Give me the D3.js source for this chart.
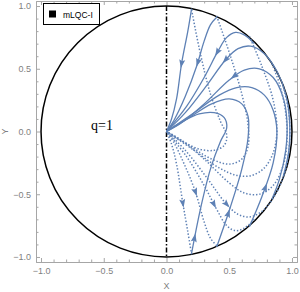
<!DOCTYPE html>
<meta charset="utf-8">
<style>
body { margin: 0; background: #fff; }
</style>
<body>
<script src="https://cdn.jsdelivr.net/npm/d3@7"></script>
<script>

var w = 300,
    h = 292;

// tick labels
var majorTicks = [-1, -0.5, 0, 0.5, 1];
var minorTicks = [-0.9, -0.8, -0.7, -0.6, -0.4, -0.3, -0.2, -0.1, 0.1, 0.2, 0.3, 0.4, 0.6, 0.7, 0.8, 0.9];

// solid orbits, read from the boundary point into the origin
var solidT0 = [[0.2, 0.98], [0.17, 0.8], [0.12, 0.54], [0.08, 0.26], [0.04, 0.1], [0, 0]];
var solidT1 = [[0.4, 0.91], [0.35, 0.85], [0.3, 0.72], [0.24, 0.52], [0.15, 0.28], [0.06, 0.09], [0, 0]];
var solidT2 = [[0.7, 0.7], [0.62, 0.77], [0.55, 0.79], [0.48, 0.75], [0.41, 0.64], [0.3, 0.43], [0.16, 0.2], [0, 0]];
var solidB1 = [[0.2, -0.97], [0.27, -0.62], [0.35, -0.3], [0.43, -0.08], [0.48, 0.03], [0.46, 0.11], [0.38, 0.15], [0.26, 0.14], [0.13, 0.08], [0, 0]];
var solidB2 = [[0.4, -0.92], [0.5, -0.63], [0.6, -0.3], [0.65, -0.05], [0.65, 0.12], [0.6, 0.22], [0.5, 0.26], [0.36, 0.22], [0.18, 0.11], [0, 0]];
var solidB3 = [[0.66, -0.76], [0.76, -0.52], [0.85, -0.25], [0.88, 0], [0.85, 0.17], [0.78, 0.29], [0.68, 0.35], [0.56, 0.35], [0.42, 0.29], [0.22, 0.15], [0, 0]];
var solidB4 = [[0.84, -0.54], [0.9, -0.38], [0.95, -0.15], [0.96, 0.08], [0.93, 0.27], [0.85, 0.43], [0.74, 0.5], [0.62, 0.49], [0.5, 0.41], [0.3, 0.22], [0.12, 0.07], [0, 0]];
var solidB5 = [[0.93, -0.36], [0.975, -0.15], [0.98, 0.1], [0.95, 0.3], [0.88, 0.48], [0.78, 0.62], [0.67, 0.68], [0.57, 0.66], [0.47, 0.57], [0.33, 0.38], [0.15, 0.15], [0, 0]];

// dotted orbits, read from the boundary point back to the origin (flow runs outward)
var dotB0 = [[0.2, -0.98], [0.17, -0.8], [0.13, -0.57], [0.08, -0.26], [0.04, -0.1], [0, 0]];
var dotB1 = [[0.4, -0.91], [0.35, -0.85], [0.3, -0.72], [0.23, -0.48], [0.15, -0.28], [0.06, -0.09], [0, 0]];
var dotB2 = [[0.7, -0.7], [0.62, -0.77], [0.55, -0.79], [0.48, -0.75], [0.4, -0.62], [0.3, -0.43], [0.16, -0.2], [0, 0]];
var dotT1 = [[0.2, 0.97], [0.27, 0.62], [0.35, 0.3], [0.43, 0.08], [0.48, -0.03], [0.46, -0.11], [0.38, -0.15], [0.26, -0.14], [0.13, -0.08], [0, 0]];
var dotT2 = [[0.4, 0.92], [0.5, 0.63], [0.6, 0.3], [0.65, 0.05], [0.65, -0.12], [0.6, -0.22], [0.5, -0.26], [0.36, -0.22], [0.18, -0.11], [0, 0]];
var dotT3 = [[0.66, 0.76], [0.76, 0.52], [0.85, 0.25], [0.88, 0], [0.85, -0.17], [0.78, -0.29], [0.68, -0.35], [0.56, -0.35], [0.42, -0.29], [0.22, -0.15], [0, 0]];
var dotT4 = [[0.84, 0.54], [0.9, 0.38], [0.95, 0.15], [0.96, -0.08], [0.93, -0.27], [0.85, -0.43], [0.74, -0.5], [0.62, -0.49], [0.5, -0.41], [0.3, -0.22], [0.12, -0.07], [0, 0]];
var dotT5 = [[0.93, 0.36], [0.975, 0.15], [0.98, -0.1], [0.95, -0.3], [0.88, -0.48], [0.78, -0.62], [0.67, -0.68], [0.57, -0.66], [0.47, -0.57], [0.33, -0.38], [0.15, -0.15], [0, 0]];

// where the arrowheads sit (null = none)
var solid = [
  {pts: solidT0, arrow: [0.12, 0.54]}, {pts: solidT1, arrow: [0.25, 0.55]}, {pts: solidT2, arrow: [0.41, 0.63]},
  {pts: solidB1, arrow: [0.23, -0.85]}, {pts: solidB2, arrow: [0.52, -0.66]}, {pts: solidB3, arrow: [0.8, -0.45]},
  {pts: solidB4, arrow: [0.54, 0.44]}, {pts: solidB5, arrow: [0.47, 0.57]}
];
var dotted = [
  {pts: dotB0, arrow: [0.13, -0.57]}, {pts: dotB1, arrow: [0.23, -0.48]}, {pts: dotB2, arrow: [0.38, -0.58]},
  {pts: dotT1, arrow: null}, {pts: dotT2, arrow: null}, {pts: dotT3, arrow: null},
  {pts: dotT4, arrow: null}, {pts: dotT5, arrow: [0.48, -0.58]}
];

var blue = "#5e81b5",
    frameColor = "#a6a6a6",
    labelColor = "#7f7f7f";

var x = d3.scaleLinear().domain([-1.04, 1.04]).range([36, 297]),
    y = d3.scaleLinear().domain([-1.04, 1.04]).range([262, 1]);

var svg = d3.select("body").append("svg")
    .attr("width", w)
    .attr("height", h)
    .style("font-family", "'Liberation Sans', Arial, sans-serif");

// frame with ticks on all four sides, labels only left and bottom
function frame(axis, tx, ty, size, vals, labels) {
  var g = svg.append("g")
      .attr("transform", "translate(" + tx + "," + ty + ")")
      .call(axis.tickValues(vals).tickSize(size).tickSizeOuter(0)
        .tickFormat(labels ? d3.format(".1f") : ""));
  g.attr("font-family", null);
  g.select(".domain").attr("stroke", frameColor);
  g.selectAll(".tick line").attr("stroke", frameColor);
  g.selectAll(".tick text").attr("fill", labelColor).attr("font-size", 9);
  return g;
}
frame(d3.axisBottom(x), 0, 262, -4, majorTicks, true).selectAll(".tick text").attr("y", 6);
frame(d3.axisBottom(x), 0, 262, -2.5, minorTicks, false);
frame(d3.axisLeft(y), 36, 0, -4, majorTicks, true).selectAll(".tick text").attr("x", -5);
frame(d3.axisLeft(y), 36, 0, -2.5, minorTicks, false);
frame(d3.axisTop(x), 0, 1, -4, majorTicks, false);
frame(d3.axisTop(x), 0, 1, -2.5, minorTicks, false);
frame(d3.axisRight(y), 297, 0, -4, majorTicks, false);
frame(d3.axisRight(y), 297, 0, -2.5, minorTicks, false);

svg.append("text")
    .attr("x", x(0))
    .attr("y", 289)
    .attr("text-anchor", "middle")
    .attr("fill", labelColor)
    .attr("font-size", 9)
    .text("X");

svg.append("text")
    .attr("transform", "translate(8," + y(0) + ") rotate(-90)")
    .attr("text-anchor", "middle")
    .attr("fill", labelColor)
    .attr("font-size", 9)
    .text("Y");

// boundary circle and the x = 0 line
svg.append("circle")
    .attr("cx", x(0))
    .attr("cy", y(0))
    .attr("r", x(1) - x(0))
    .attr("fill", "none")
    .attr("stroke", "#000")
    .attr("stroke-width", 1.5);

svg.append("line")
    .attr("x1", x(0)).attr("x2", x(0))
    .attr("y1", y(1)).attr("y2", y(-1))
    .attr("stroke", "#000")
    .attr("stroke-width", 1.5)
    .attr("stroke-dasharray", "5,2,1.5,2");

var line = d3.line()
    .x(function(d) { return x(d[0]); })
    .y(function(d) { return y(d[1]); })
    .curve(d3.curveCatmullRom.alpha(0.5));

function drawOrbits(list, dash, reverse) {
  list.forEach(function(o) {
    var p = svg.append("path")
        .attr("d", line(o.pts))
        .attr("fill", "none")
        .attr("stroke", blue)
        .attr("stroke-width", dash ? 1.5 : 1.3)
        .attr("stroke-dasharray", dash);
    if (!o.arrow) return;
    // put the head at the point of the path nearest to the listed spot
    var node = p.node(), len = node.getTotalLength(),
        tx = x(o.arrow[0]), ty = y(o.arrow[1]), best = 0, bestD = Infinity;
    for (var s = 0; s <= len; s += 0.5) {
      var q = node.getPointAtLength(s), dd = (q.x - tx) * (q.x - tx) + (q.y - ty) * (q.y - ty);
      if (dd < bestD) bestD = dd, best = s;
    }
    var a = node.getPointAtLength(best),
        b = node.getPointAtLength(Math.min(len, best + 1)),
        ang = Math.atan2(b.y - a.y, b.x - a.x) * 180 / Math.PI + (reverse ? 180 : 0);
    svg.append("path")
        .attr("d", "M4.5,0L-4,-3L-2.5,0L-4,3Z")
        .attr("transform", "translate(" + a.x + "," + a.y + ") rotate(" + ang + ")")
        .attr("fill", blue);
  });
}
drawOrbits(solid, null, false);
drawOrbits(dotted, "1.4,1.9", true);

svg.append("text")
    .attr("x", 91)
    .attr("y", 130)
    .style("font-family", "'Liberation Serif', 'Times New Roman', serif")
    .attr("font-size", 14)
    .text("q=1");

// legend
svg.append("rect")
    .attr("x", 43.5).attr("y", 3.5)
    .attr("width", 56).attr("height", 21)
    .attr("fill", "#fff")
    .attr("stroke", "#000");
svg.append("rect")
    .attr("x", 49).attr("y", 10.5)
    .attr("width", 7).attr("height", 7)
    .attr("fill", "#000");
svg.append("text")
    .attr("x", 63)
    .attr("y", 17.5)
    .attr("font-size", 8.5)
    .text("mLQC-I");

</script>
